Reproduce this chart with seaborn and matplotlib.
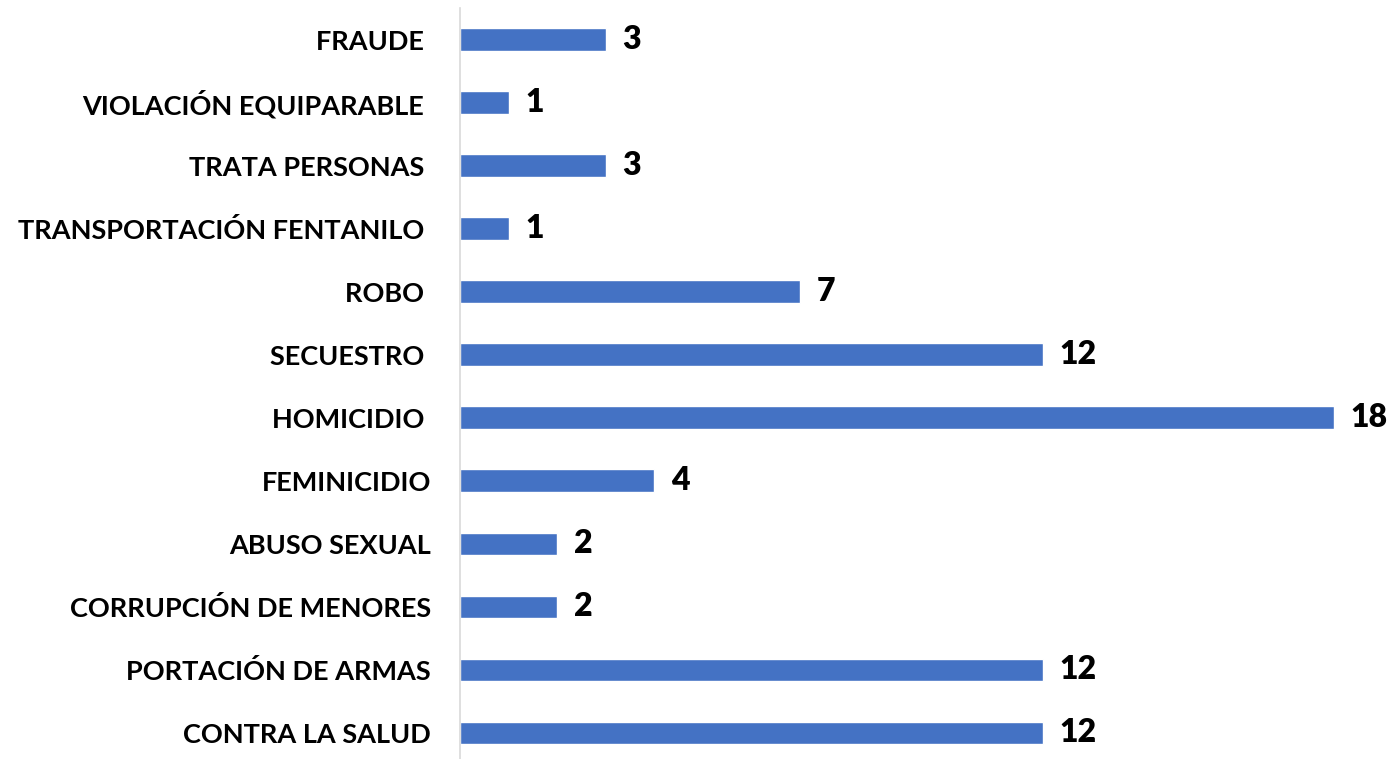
import matplotlib
matplotlib.use("Agg")
import matplotlib.pyplot as plt
import seaborn as sns
import pandas as pd

# Categories (top to bottom) and counts
delitos = [
    "FRAUDE ",
    "VIOLACIÓN EQUIPARABLE ",
    "TRATA PERSONAS ",
    "TRANSPORTACIÓN FENTANILO ",
    "ROBO ",
    "SECUESTRO ",
    "HOMICIDIO ",
    "FEMINICIDIO",
    "ABUSO SEXUAL",
    "CORRUPCIÓN DE MENORES",
    "PORTACIÓN DE ARMAS",
    "CONTRA LA SALUD",
]
casos = [3, 1, 3, 1, 7, 12, 18, 4, 2, 2, 12, 12]

df = pd.DataFrame({"delito": delitos, "casos": casos})

sns.set_style("white")
plt.rcParams["font.family"] = ["Lato", "DejaVu Sans"]

fig = plt.figure(figsize=(13.91, 7.59), dpi=100)
ax = fig.add_axes([460 / 1391, 0, (1334 - 460) / 1391, 751 / 759])

sns.barplot(data=df, x="casos", y="delito", color="#4472C4", width=0.35,
            saturation=1, orient="h", ax=ax)

for c in ax.containers:
    labs = ax.bar_label(c, padding=12, fontsize=23, fontweight="heavy", color="black")
    for t in labs:
        t.set_va("center")
        t.set_y(t.get_position()[1])

ax.set_xlim(0, 18)
ax.set_ylim(11.42, -0.5)
ax.set_xlabel("")
ax.set_ylabel("")
ax.set_xticks([])
ax.tick_params(axis="y", length=0, pad=21)
for lab in ax.get_yticklabels():
    lab.set_fontsize(19.5)
    lab.set_fontweight("bold")
    lab.set_color("black")

for s in ["top", "right", "bottom"]:
    ax.spines[s].set_visible(False)
ax.spines["left"].set_color("#d9d9d9")
ax.spines["left"].set_linewidth(1.2)

fig.savefig("out.png", dpi=100)
